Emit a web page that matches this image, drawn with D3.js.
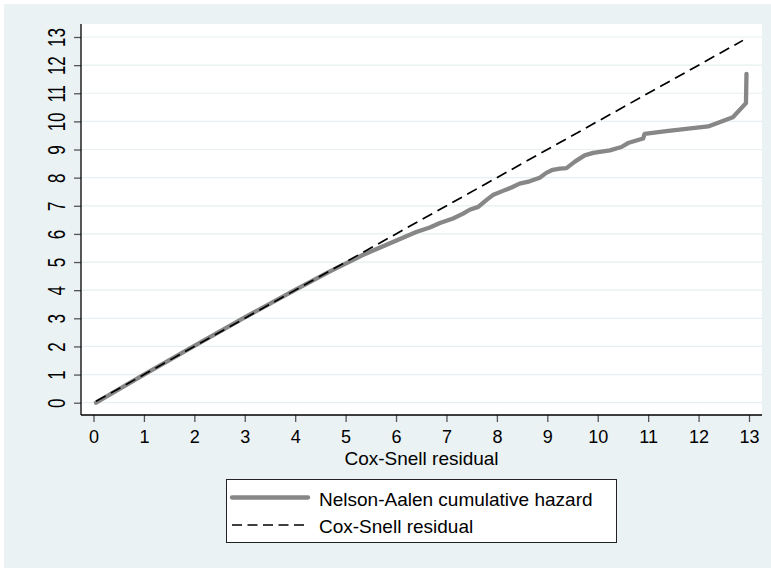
<!DOCTYPE html>
<html lang="en">
  <head>
    <meta charset="utf-8">
    <title>Cox-Snell residuals</title>
    <script src="https://cdnjs.cloudflare.com/ajax/libs/d3/7.8.5/d3.min.js"></script>
    <style>
      body { margin: 0; background: #ffffff; }
      text { font-family: Arial, "Liberation Sans", sans-serif; fill: #000; }
    </style>
  </head>
  <body>
    <div id="graph"></div>

    <script type="text/javascript">
    // ticks on both axes
    const xTicks = [0,1,2,3,4,5,6,7,8,9,10,11,12,13];
    const yTicks = [0,1,2,3,4,5,6,7,8,9,10,11,12,13];

    // Nelson-Aalen cumulative hazard
    const naResid = [0.05, 1, 2, 3, 4, 4.68, 5.34, 5.87, 6.40, 6.67, 6.87, 7.13, 7.33, 7.46,
                     7.63, 7.79, 7.92, 8.12, 8.29, 8.45, 8.65, 8.85, 8.98, 9.11, 9.25, 9.38,
                     9.54, 9.74, 9.91, 10.24, 10.47, 10.60, 10.90, 10.93, 11.36, 12.19, 12.68,
                     12.94, 12.95];
    const naHazard = [0, 1.0, 2.02, 3.03, 4.01, 4.66, 5.25, 5.66, 6.07, 6.23, 6.39, 6.55, 6.72, 6.86,
                      6.96, 7.2, 7.38, 7.53, 7.65, 7.79, 7.87, 8.0, 8.17, 8.28, 8.32, 8.34,
                      8.56, 8.79, 8.88, 8.97, 9.09, 9.23, 9.39, 9.56, 9.65, 9.82, 10.15,
                      10.65, 11.69];

    // reference line y = x
    const refResid = [0.05, 12.88];
    const refValue = [0.05, 12.88];

    const legendLabels = ["Nelson-Aalen cumulative hazard", "Cox-Snell residual"];
    const xTitle = "Cox-Snell residual";

    const W = 771, H = 568;
    const plotL = 81, plotR = 762, plotT = 24, plotB = 415;

    const svg = d3.select("#graph").append("svg")
                  .attr("width", W)
                  .attr("height", H);

    // outer background
    svg.append("rect")
       .attr("x", 4).attr("y", 4)
       .attr("width", W - 4).attr("height", H - 4)
       .attr("fill", "#eaf2f3");

    // plot region
    svg.append("rect")
       .attr("x", plotL).attr("y", plotT)
       .attr("width", plotR - plotL).attr("height", plotB - plotT)
       .attr("fill", "#ffffff");

    const xScale = d3.scaleLinear().domain([0, 13]).range([93.5, 749]);
    const yScale = d3.scaleLinear().domain([0, 13]).range([402.7, 37]);

    // grid lines
    svg.append("g")
       .selectAll("line")
       .data(yTicks)
       .enter()
       .append("line")
       .attr("x1", plotL + 1).attr("x2", plotR)
       .attr("y1", d => yScale(d)).attr("y2", d => yScale(d))
       .attr("stroke", "#e6eff1")
       .attr("stroke-width", 1.2);

    // y axis
    const yAxis = d3.axisLeft(yScale)
                    .tickValues(yTicks)
                    .tickSize(7)
                    .tickPadding(0)
                    .tickFormat(d3.format("d"));
    const gy = svg.append("g")
       .attr("transform", "translate(" + plotL + ",0)")
       .call(yAxis);
    gy.select(".domain").remove();
    gy.selectAll(".tick line").attr("stroke", "#555").attr("stroke-width", 1.3);
    gy.selectAll(".tick text")
       .attr("x", 0).attr("dy", 0)
       .attr("text-anchor", "middle")
       .style("font-size", "17px")
       .attr("transform", "translate(-16,0) rotate(-90) scale(1,1.4)");
    gy.append("line")
       .attr("x1", 0).attr("x2", 0)
       .attr("y1", plotT).attr("y2", plotB)
       .attr("stroke", "#000").attr("stroke-width", 1.3);

    // x axis
    const xAxis = d3.axisBottom(xScale)
                    .tickValues(xTicks)
                    .tickSize(7)
                    .tickPadding(8)
                    .tickFormat(d3.format("d"));
    const gx = svg.append("g")
       .attr("transform", "translate(0," + plotB + ")")
       .call(xAxis);
    gx.select(".domain").remove();
    gx.selectAll(".tick line").attr("stroke", "#555").attr("stroke-width", 1.3);
    gx.selectAll(".tick text").style("font-size", "18px");
    gx.append("line")
       .attr("x1", plotL).attr("x2", plotR)
       .attr("y1", 0).attr("y2", 0)
       .attr("stroke", "#000").attr("stroke-width", 1.3);

    // x axis title
    svg.append("text")
       .attr("x", (plotL + plotR) / 2)
       .attr("y", 465)
       .attr("text-anchor", "middle")
       .style("font-size", "19px")
       .text(xTitle);

    const line = d3.line()
                   .x(d => xScale(d[0]))
                   .y(d => yScale(d[1]));

    // Nelson-Aalen
    svg.append("path")
       .datum(naResid.map((v, i) => [v, naHazard[i]]))
       .attr("d", line)
       .attr("fill", "none")
       .attr("stroke", "#878787")
       .attr("stroke-width", 4.3)
       .attr("stroke-linejoin", "round")
       .attr("stroke-linecap", "round");

    // reference
    svg.append("path")
       .datum(refResid.map((v, i) => [v, refValue[i]]))
       .attr("d", line)
       .attr("fill", "none")
       .attr("stroke", "#000")
       .attr("stroke-width", 1.7)
       .attr("stroke-dasharray", "11,6");

    // legend
    const lg = svg.append("g");
    lg.append("rect")
      .attr("x", 226.5).attr("y", 479.5)
      .attr("width", 390).attr("height", 63)
      .attr("fill", "#ffffff")
      .attr("stroke", "#222")
      .attr("stroke-width", 1);
    lg.append("line")
      .attr("x1", 232).attr("x2", 308)
      .attr("y1", 497.5).attr("y2", 497.5)
      .attr("stroke", "#878787").attr("stroke-width", 4.3)
      .attr("stroke-linecap", "round");
    lg.append("line")
      .attr("x1", 232).attr("x2", 308)
      .attr("y1", 525).attr("y2", 525)
      .attr("stroke", "#000").attr("stroke-width", 1.5)
      .attr("stroke-dasharray", "10,5.5");
    lg.selectAll("text.lbl")
      .data(legendLabels)
      .enter()
      .append("text")
      .attr("class", "lbl")
      .attr("x", 319)
      .attr("y", (d, i) => 505.5 + i * 27.5)
      .style("font-size", "19px")
      .text(d => d);
    </script>
  </body>
</html>
